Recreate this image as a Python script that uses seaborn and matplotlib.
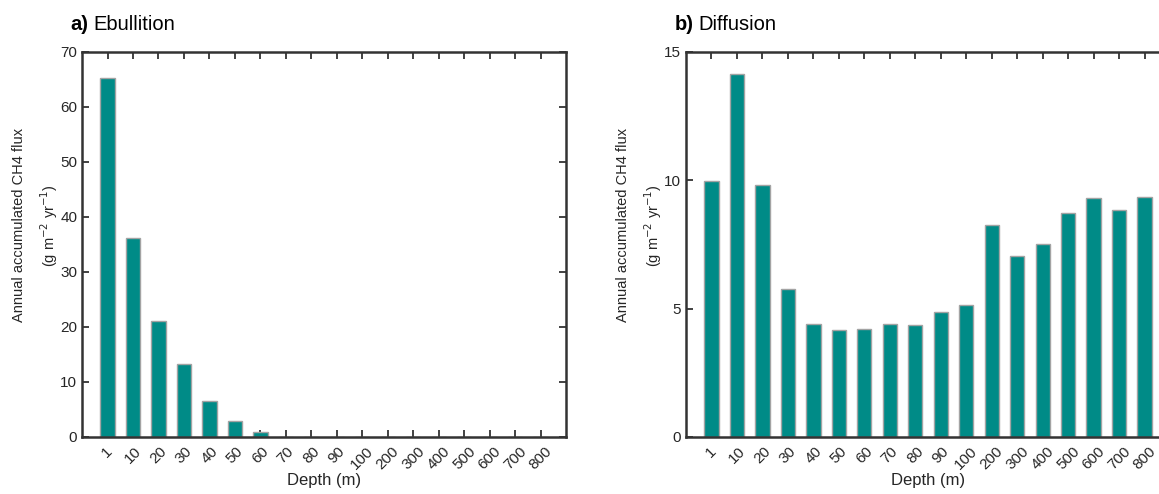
import matplotlib
matplotlib.use("Agg")
import matplotlib.pyplot as plt
import seaborn as sns
import pandas as pd

depths = ["1", "10", "20", "30", "40", "50", "60", "70", "80", "90",
          "100", "200", "300", "400", "500", "600", "700", "800"]
ebullition = [65.3, 36.1, 21.1, 13.2, 6.6, 2.9, 0.85, 0, 0, 0,
              0, 0, 0, 0, 0, 0, 0, 0]
diffusion = [9.96, 14.16, 9.83, 5.76, 4.42, 4.15, 4.20, 4.42, 4.36, 4.87,
             5.16, 8.27, 7.05, 7.52, 8.74, 9.32, 8.83, 9.35]

sns.set_theme(style="white")
plt.rcParams["font.family"] = ["Liberation Sans", "DejaVu Sans"]

BAR = "#008B87"
EDGE = "#A3A3A3"
INK = "#262626"
SPINE = "#333333"

fig = plt.figure(figsize=(11.59, 4.94), dpi=100)
ax_a = fig.add_axes([0.0708, 0.1154, 0.4176, 0.7794])
ax_b = fig.add_axes([0.5919, 0.1154, 0.4176, 0.7794])

panels = [
    (ax_a, ebullition, (0, 70), list(range(0, 71, 10)), "a)", "Ebullition"),
    (ax_b, diffusion, (0, 15), [0, 5, 10, 15], "b)", "Diffusion"),
]

for ax, vals, ylim, yticks, tag, name in panels:
    df = pd.DataFrame({"depth": depths, "flux": vals})
    sns.barplot(data=df, x="depth", y="flux", order=depths, ax=ax,
                color=BAR, saturation=1, width=0.56,
                edgecolor=EDGE, linewidth=1.0, errorbar=None)
    ax.set_xlim(-1, len(depths))
    ax.set_ylim(*ylim)
    ax.set_yticks(yticks)
    ax.set_xticks(range(len(depths)))
    ax.set_xticklabels(depths, rotation=45, ha="center")
    ax.tick_params(axis="x", direction="in", length=5, width=1.3,
                   top=True, bottom=True, pad=5, labelsize=11,
                   colors=SPINE, labelcolor=INK)
    ax.tick_params(axis="y", direction="in", length=5, width=1.3,
                   left=True, right=True, pad=3.5, labelsize=11,
                   colors=SPINE, labelcolor=INK)
    for s in ax.spines.values():
        s.set_color(SPINE)
        s.set_linewidth(1.8)
    ax.set_xlabel("Depth (m)", fontsize=12, color=INK, labelpad=1)
    ax.set_ylabel("Annual accumulated CH4 flux\n(g m$^{-2}$ yr$^{-1}$)",
                  fontsize=10.5, color=INK, linespacing=1.7)
    ax.yaxis.set_label_coords(-0.046, 0.55)
    t1 = ax.annotate(tag, xy=(0, 1), xycoords="axes fraction",
                     xytext=(-8.5, 15.5), textcoords="offset points",
                     fontsize=14.5, fontweight="bold", color="black",
                     ha="left", va="baseline")
    ax.annotate(name, xy=(1, 0), xycoords=t1, xytext=(3.5, 0),
                textcoords="offset points", fontsize=14.5, color="black",
                ha="left", va="bottom")

fig.savefig("out.png", dpi=100)
